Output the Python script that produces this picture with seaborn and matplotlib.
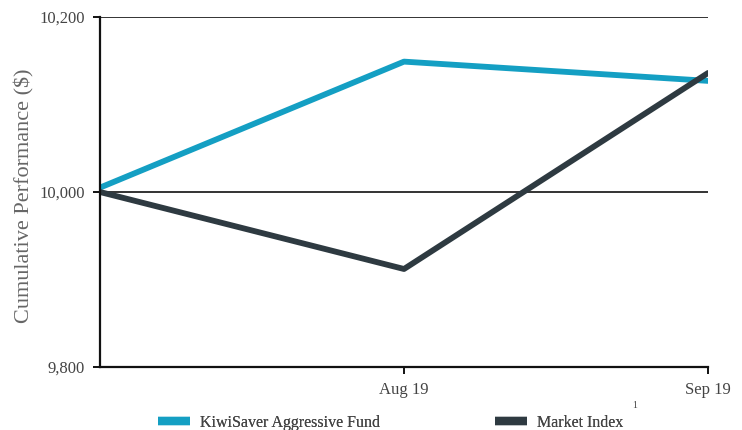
import matplotlib
matplotlib.use("Agg")
import matplotlib.pyplot as plt
import seaborn as sns
import pandas as pd
from matplotlib.lines import Line2D

months = ["Jul 19", "Aug 19", "Sep 19"]
tick_labels = ["", "Aug 19", "Sep 19"]
fund = [10005, 10149, 10127]
market = [10000, 9912, 10136]
series_names = ["KiwiSaver Aggressive Fund", "Market Index"]
colors = ["#149fc3", "#2e3a41"]

df = pd.DataFrame({
    "x": list(range(len(months))) * 2,
    "value": fund + market,
    "series": [series_names[0]] * len(months) + [series_names[1]] * len(months),
})

sns.set_style("white")
plt.rcParams["font.family"] = ["Liberation Serif", "DejaVu Serif"]

fig = plt.figure(figsize=(7.42, 4.30), dpi=100)
ax = fig.add_axes([100 / 742, 1 - 367 / 430, 608 / 742, 350 / 430])

sns.lineplot(data=df, x="x", y="value", hue="series", palette=colors,
             linewidth=4.2, ax=ax, legend=False, solid_capstyle="round", sort=False)

ax.set_xlim(0, 2)
ax.set_ylim(9800, 10200)
ax.set_xticks(range(len(months)))
ax.set_xticklabels(tick_labels)
ax.set_yticks([9800, 10000, 10200])
ax.set_yticklabels(["9,800", "10,000", "10,200"])
ax.yaxis.grid(True, color="#111111", linewidth=1.2)
ax.set_axisbelow(True)
for s in ["top", "right"]:
    ax.spines[s].set_visible(False)
for s in ["left", "bottom"]:
    ax.spines[s].set_color("#111111")
    ax.spines[s].set_linewidth(1.6)
ax.tick_params(axis="both", which="both", direction="out", length=5, width=1.4,
               color="#111111", labelsize=12, labelcolor="#444444", pad=6)
ax.tick_params(axis="x", bottom=True)
ax.tick_params(axis="y", left=True)
ax.xaxis.get_major_ticks()[0].tick1line.set_visible(False)
ax.set_xlabel("")
ax.set_ylabel("Cumulative Performance ($)", fontsize=16, color="#666666")
ax.yaxis.set_label_coords(-0.107, 0.49)

# legend entries
for i, (name, c, hx) in enumerate(zip(series_names, colors, [158, 495])):
    leg = fig.legend([Line2D([0], [0], color=c, linewidth=6, solid_capstyle="butt")], [name],
                     loc="center left", bbox_to_anchor=(hx / 742, 1 - 423 / 430),
                     frameon=False, fontsize=11.5, handlelength=2.0, handletextpad=0.63,
                     borderpad=0, borderaxespad=0)
    for t in leg.get_texts():
        t.set_color("#444444")
    fig.add_artist(leg)
fig.text(632 / 742, 1 - 408 / 430, "1", fontsize=7, color="#444444")

fig.savefig("out.png", dpi=100)
